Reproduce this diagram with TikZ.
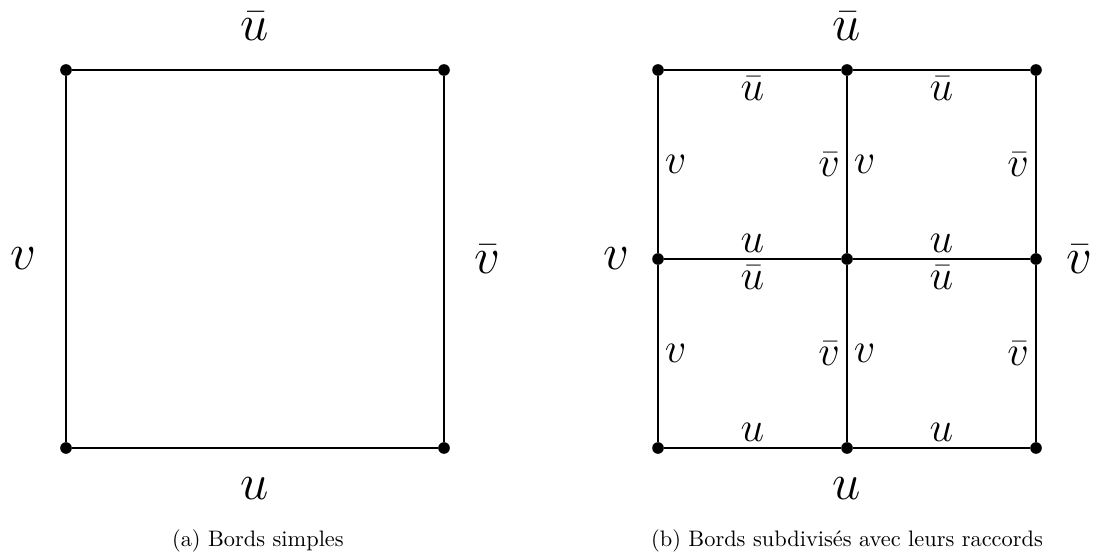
\documentclass[tikz,border=0pt]{standalone}
\usepackage{tikz}
\usetikzlibrary{positioning}

\begin{document}
\begin{tikzpicture}[
    sommet/.style={circle, fill=black, inner sep=0pt, minimum size=0.2cm},
    bord/.style={line width=0.8pt, draw=black},
    etiq/.style={font=\huge, inner sep=3pt},
    grandeEtiq/.style={font=\fontsize{28}{34}\selectfont},
    legende/.style={font=\fontsize{10.95}{13.6}\selectfont}
  ]
  \useasboundingbox (-1.135,-1.909) rectangle (17.66,7.704);

  % (a) Bords simples
  \node[sommet] (a1) at (0,0) {};
  \node[sommet] (a2) at (6.5,0) {};
  \node[sommet] (a3) at (6.5,6.5) {};
  \node[sommet] (a4) at (0,6.5) {};
  \draw[bord] (a1) -- (a2) -- (a3) -- (a4) -- (a1);

  \node[grandeEtiq] (hautA) at (3.25,7.26) {$\bar{u}$};
  \node[grandeEtiq] (gaucheA) at (-0.73,3.25) {$v$};
  \node[grandeEtiq] (droiteA) at (7.24,3.25) {$\bar{v}$};
  \node[grandeEtiq] (basA) at (3.25,-0.7) {$u$};
  \node[legende] (legA) at (3.3,-1.6) {(a) Bords simples};

  % (b) Bords subdivises, sommets en grille 3x3
  \node[sommet] (b00) at (10.18,0) {};
  \node[sommet] (b10) at (13.43,0) {};
  \node[sommet] (b20) at (16.68,0) {};
  \node[sommet] (b01) at (10.18,3.25) {};
  \node[sommet] (b11) at (13.43,3.25) {};
  \node[sommet] (b21) at (16.68,3.25) {};
  \node[sommet] (b02) at (10.18,6.5) {};
  \node[sommet] (b12) at (13.43,6.5) {};
  \node[sommet] (b22) at (16.68,6.5) {};

  % bords horizontaux
  \draw[bord] (b00) -- node[etiq, above] {$u$} (b10) -- node[etiq, above] {$u$} (b20);
  \draw[bord] (b01) -- node[etiq, above] {$u$} node[etiq, below] {$\bar{u}$} (b11)
                    -- node[etiq, above] {$u$} node[etiq, below] {$\bar{u}$} (b21);
  \draw[bord] (b02) -- node[etiq, below] {$\bar{u}$} (b12) -- node[etiq, below] {$\bar{u}$} (b22);

  % bords verticaux
  \draw[bord] (b00) -- node[etiq, right] {$v$} (b01) -- node[etiq, right] {$v$} (b02);
  \draw[bord] (b10) -- node[etiq, left] {$\bar{v}$} node[etiq, right] {$v$} (b11)
                    -- node[etiq, left] {$\bar{v}$} node[etiq, right] {$v$} (b12);
  \draw[bord] (b20) -- node[etiq, left] {$\bar{v}$} (b21) -- node[etiq, left] {$\bar{v}$} (b22);

  \node[grandeEtiq] (hautB) at (13.43,7.26) {$\bar{u}$};
  \node[grandeEtiq] (gaucheB) at (9.46,3.25) {$v$};
  \node[grandeEtiq] (droiteB) at (17.42,3.25) {$\bar{v}$};
  \node[grandeEtiq] (basB) at (13.43,-0.7) {$u$};
  \node[legende] (legB) at (13.43,-1.6) {(b) Bords subdivisés avec leurs raccords};
\end{tikzpicture}
\end{document}
